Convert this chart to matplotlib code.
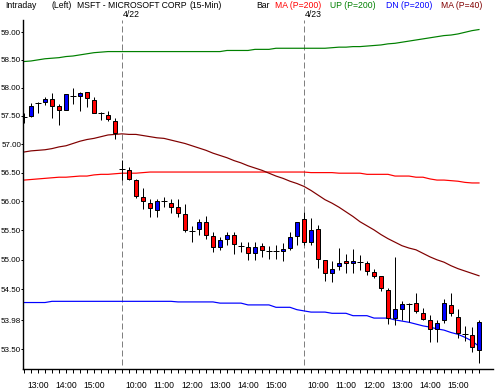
import numpy as np
import matplotlib
matplotlib.use("Agg")
import matplotlib.pyplot as plt
from matplotlib.ticker import FixedLocator, NullLocator, NullFormatter
import matplotlib.transforms as mtrans

# 15-min bars: 4/21 12:30 .. 4/23 15:45
opens = [57.48, 57.50, 57.72, 57.74, 57.80, 57.68, 57.61, 57.85, 57.85, 57.93,
         57.78, 57.54, 57.51, 57.40, 56.56, 56.55, 56.37, 56.08, 55.97, 55.85,
         56.00, 55.97, 55.91, 55.78, 55.49, 55.52, 55.64, 55.41, 55.21, 55.35,
         55.42, 55.24, 55.21, 55.11, 55.24, 55.15, 55.15, 55.15, 55.20, 55.41,
         55.69, 55.31, 55.52, 55.00, 54.77, 54.89, 54.98, 54.94, 54.97, 54.95,
         54.80, 54.73, 54.49, 54.02, 54.18, 54.25, 54.28, 54.10, 53.99, 53.84,
         53.99, 54.24, 54.04, 53.76, 53.74, 53.49]
highs = [57.55, 57.73, 57.74, 57.83, 57.91, 57.71, 57.89, 57.99, 57.93, 57.93,
         57.84, 57.57, 57.59, 57.46, 56.72, 56.59, 56.39, 56.23, 56.04, 56.04,
         56.08, 56.04, 56.04, 55.96, 55.57, 55.70, 55.75, 55.48, 55.39, 55.47,
         55.47, 55.31, 55.31, 55.30, 55.29, 55.24, 55.25, 55.28, 55.47, 55.65,
         55.81, 55.71, 55.60, 55.00, 54.98, 55.20, 55.10, 55.18, 55.08, 54.98,
         54.84, 54.73, 54.52, 55.04, 54.31, 54.27, 54.44, 54.19, 54.07, 53.98,
         54.34, 54.44, 54.18, 53.88, 53.87, 53.99]
lows = [57.37, 57.48, 57.55, 57.69, 57.46, 57.34, 57.60, 57.71, 57.59, 57.66,
        57.54, 57.42, 57.41, 57.09, 56.37, 56.37, 56.06, 55.87, 55.74, 55.74,
        55.91, 55.80, 55.74, 55.47, 55.31, 55.42, 55.35, 55.14, 55.16, 55.25,
        55.10, 55.14, 55.00, 55.00, 55.04, 55.02, 55.02, 54.98, 55.16, 55.25,
        55.25, 55.25, 54.86, 54.65, 54.63, 54.83, 54.78, 54.78, 54.83, 54.74,
        54.70, 54.48, 53.92, 53.91, 53.98, 53.96, 54.10, 53.98, 53.62, 53.62,
        53.94, 54.06, 53.69, 53.64, 53.46, 53.28]
closes = [57.48, 57.67, 57.72, 57.80, 57.68, 57.60, 57.88, 57.85, 57.90, 57.81,
          57.54, 57.54, 57.44, 57.19, 56.56, 56.39, 56.10, 56.01, 55.88, 56.00,
          56.00, 55.91, 55.80, 55.50, 55.49, 55.64, 55.42, 55.21, 55.34, 55.42,
          55.27, 55.24, 55.11, 55.21, 55.16, 55.15, 55.15, 55.18, 55.39, 55.64,
          55.30, 55.51, 55.01, 54.77, 54.84, 54.95, 54.94, 54.98, 54.97, 54.81,
          54.73, 54.52, 54.02, 54.18, 54.25, 54.25, 54.13, 54.00, 53.84, 53.94,
          54.27, 54.10, 53.77, 53.76, 53.54, 53.96]

ma200 = [56.37, 56.38, 56.39, 56.40, 56.41, 56.42, 56.42, 56.43, 56.44, 56.44,
         56.46, 56.47, 56.47, 56.48, 56.49, 56.49, 56.49, 56.50, 56.51, 56.51,
         56.51, 56.51, 56.51, 56.51, 56.51, 56.51, 56.51, 56.51, 56.51, 56.51,
         56.51, 56.51, 56.51, 56.51, 56.51, 56.51, 56.51, 56.51, 56.51, 56.51,
         56.51, 56.50, 56.50, 56.50, 56.50, 56.49, 56.49, 56.49, 56.49, 56.47,
         56.47, 56.47, 56.47, 56.44, 56.44, 56.44, 56.42, 56.42, 56.39, 56.37,
         56.37, 56.36, 56.35, 56.33, 56.32, 56.32]
up200 = [58.47, 58.48, 58.50, 58.52, 58.53, 58.54, 58.56, 58.57, 58.59, 58.61,
         58.63, 58.64, 58.65, 58.65, 58.65, 58.65, 58.65, 58.65, 58.65, 58.65,
         58.65, 58.65, 58.65, 58.65, 58.65, 58.65, 58.65, 58.65, 58.65, 58.67,
         58.67, 58.67, 58.67, 58.69, 58.69, 58.69, 58.71, 58.71, 58.71, 58.71,
         58.71, 58.71, 58.71, 58.71, 58.72, 58.73, 58.73, 58.74, 58.74, 58.75,
         58.76, 58.77, 58.79, 58.80, 58.82, 58.84, 58.86, 58.88, 58.90, 58.92,
         58.94, 58.95, 58.97, 59.00, 59.03, 59.05]
dn200 = [54.28, 54.28, 54.28, 54.28, 54.30, 54.30, 54.30, 54.30, 54.30, 54.30,
         54.30, 54.30, 54.30, 54.30, 54.30, 54.30, 54.30, 54.30, 54.30, 54.30,
         54.30, 54.30, 54.29, 54.29, 54.29, 54.29, 54.29, 54.29, 54.27, 54.27,
         54.27, 54.27, 54.24, 54.24, 54.24, 54.24, 54.20, 54.20, 54.20, 54.16,
         54.14, 54.12, 54.12, 54.12, 54.10, 54.10, 54.10, 54.06, 54.06, 54.06,
         54.02, 54.02, 54.02, 53.99, 53.97, 53.95, 53.92, 53.89, 53.87, 53.84,
         53.82, 53.78, 53.75, 53.70, 53.64, 53.55]
ma40 = [56.86, 56.88, 56.89, 56.90, 56.92, 56.95, 56.97, 57.01, 57.05, 57.08,
        57.10, 57.13, 57.16, 57.17, 57.18, 57.17, 57.17, 57.15, 57.13, 57.11,
        57.10, 57.07, 57.04, 57.01, 56.97, 56.93, 56.89, 56.84, 56.80, 56.76,
        56.71, 56.67, 56.62, 56.58, 56.54, 56.49, 56.44, 56.40, 56.35, 56.31,
        56.26, 56.19, 56.11, 56.03, 55.97, 55.90, 55.82, 55.74, 55.65, 55.58,
        55.51, 55.43, 55.36, 55.30, 55.24, 55.20, 55.17, 55.11, 55.05, 55.00,
        54.96, 54.90, 54.85, 54.81, 54.77, 54.73]

time_labels = ["13:00", "14:00", "15:00",
               "10:00", "11:00", "12:00", "13:00", "14:00", "15:00",
               "10:00", "11:00", "12:00", "13:00", "14:00", "15:00"]
time_bars = [2, 6, 10, 16, 20, 24, 28, 32, 36, 42, 46, 50, 54, 58, 62]
day_starts = [14, 40]
day_labels = ["4/22", "4/23"]
price_ticks = [53.50, 53.98, 54.50, 55.00, 55.50, 56.00, 56.50,
               57.00, 57.50, 58.00, 58.50, 59.00]

W, H = 496, 390
plt.rcParams["font.family"] = ["Liberation Sans", "DejaVu Sans"]
fs = 6.2
fig = plt.figure(figsize=(W / 100, H / 100), dpi=100)
ax = fig.add_axes([23 / W, 21 / H, 470 / W, 348.5 / H])

x = np.arange(len(opens))
o = np.array(opens); c = np.array(closes)
px = 0.72

ax.plot(x, up200, color="#008000", lw=1.2 * px)
ax.plot(x, ma200, color="#ff0000", lw=1.2 * px)
ax.plot(x, dn200, color="#0000ff", lw=1.2 * px)
ax.plot(x, ma40, color="#800000", lw=1.2 * px)

for d in day_starts:
    ax.axvline(d, ymin=0.012, ymax=1, color="#808080", lw=px,
               linestyle=(0, (6, 3)), zorder=1)

ax.vlines(x, lows, highs, color="black", lw=px, zorder=3)
up = c > o
dn = c < o
eq = c == o
ax.bar(x[up], c[up] - o[up], bottom=o[up], width=0.6, color="#0000ff",
       edgecolor="black", linewidth=px, zorder=4)
ax.bar(x[dn], o[dn] - c[dn], bottom=c[dn], width=0.6, color="#ff0000",
       edgecolor="black", linewidth=px, zorder=4)
ax.hlines(c[eq], x[eq] - 0.4, x[eq] + 0.4, color="black", lw=px, zorder=4)

ax.set_yscale("log")
ax.set_ylim(53.178, 59.215)
ax.set_xlim(-0.14, 67.0)
ax.yaxis.set_major_locator(FixedLocator(price_ticks))
ax.yaxis.set_minor_locator(NullLocator())
ax.yaxis.set_minor_formatter(NullFormatter())
ax.set_yticklabels(["%.2f" % v for v in price_ticks])
ax.set_xticks(time_bars)
ax.set_xticklabels(time_labels)
ax.set_xticks(x, minor=True)

for s in ["top", "right"]:
    ax.spines[s].set_visible(False)
for s in ["left", "bottom"]:
    ax.spines[s].set_linewidth(1.4 * px)
ax.tick_params(axis="y", which="major", length=2 * px, width=px, pad=0,
               labelsize=5.8)
ax.tick_params(axis="x", which="both", length=4 * px, width=px, pad=6,
               labelsize=fs)

tr = mtrans.blended_transform_factory(ax.transData, fig.transFigure)
for d, lab in zip(day_starts, day_labels):
    ax.text(d + 0.1, 1 - 14.5 / H, lab, transform=tr, fontsize=fs,
            ha="left", va="center", clip_on=False)

hy = 1 - 5 / H
fig.text(5 / W, hy, "Intraday", fontsize=fs, va="center")
fig.text(51 / W, hy, "(Left)", fontsize=fs, va="center")
fig.text(77 / W, hy, "MSFT - MICROSOFT CORP", fontsize=fs, va="center")
fig.text(190 / W, hy, "(15-Min)", fontsize=fs, va="center")
fig.text(256 / W, hy, "Bar", fontsize=fs, va="center")
fig.text(275 / W, hy, "MA (P=200)", fontsize=fs, va="center", color="#ff0000")
fig.text(330 / W, hy, "UP (P=200)", fontsize=fs, va="center", color="#008000")
fig.text(386 / W, hy, "DN (P=200)", fontsize=fs, va="center", color="#0000ff")
fig.text(441 / W, hy, "MA (P=40)", fontsize=fs, va="center", color="#800000")

fig.savefig("out.png", dpi=100)
